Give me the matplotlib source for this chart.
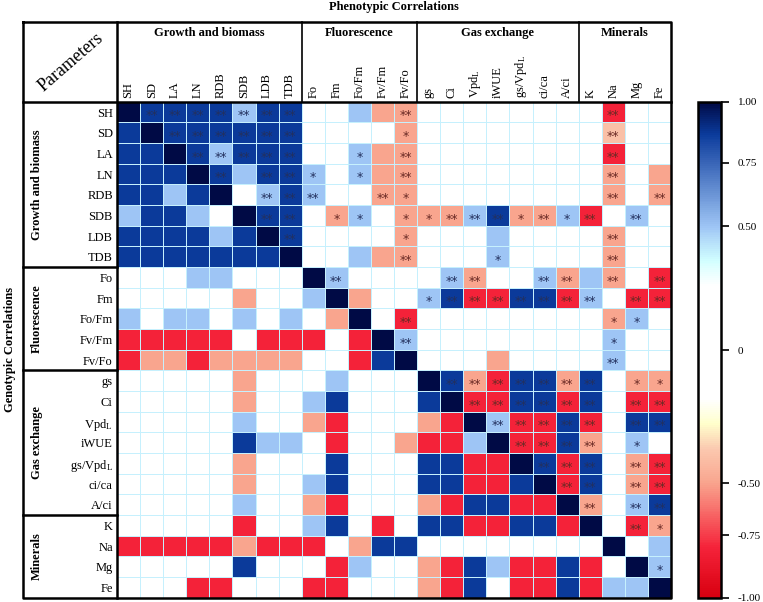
import numpy as np
import matplotlib
matplotlib.use("Agg")
import matplotlib.pyplot as plt
from matplotlib.colors import LinearSegmentedColormap, FuncNorm

plt.rcParams['font.family'] = ['Liberation Serif', 'DejaVu Serif']

params = ["SH", "SD", "LA", "LN", "RDB", "SDB", "LDB", "TDB",
          "Fo", "Fm", "Fo/Fm", "Fv/Fm", "Fv/Fo",
          "gs", "Ci", r"$\mathregular{Vpd_L}$", "iWUE", r"$\mathregular{gs/Vpd_L}$", "ci/ca", "A/ci",
          "K", "Na", "Mg", "Fe"]
groups = ["Growth and biomass", "Fluorescence", "Gas exchange", "Minerals"]
group_sizes = [8, 5, 7, 4]

# correlation levels
N, B, L, W, S, R, P = 1.0, 0.87, 0.5, 0.0, -0.5, -0.8, -0.4

# lower triangle = genotypic, upper triangle = phenotypic
corr = np.array([
    [N, B, B, B, B, L, B, B, W, W, L, S, S, W, W, W, W, W, W, W, W, R, W, W],
    [B, N, B, B, B, B, B, B, W, W, W, W, S, W, W, W, W, W, W, W, W, P, W, W],
    [B, B, N, B, L, B, B, B, W, W, L, S, S, W, W, W, W, W, W, W, W, R, W, W],
    [B, B, B, N, B, L, B, B, L, W, L, S, S, W, W, W, W, W, W, W, W, S, W, S],
    [B, B, L, B, N, W, L, B, L, W, W, S, S, W, W, W, W, W, W, W, W, S, W, S],
    [L, B, B, L, W, N, B, B, W, S, L, W, S, S, S, L, B, S, S, L, R, W, L, W],
    [B, B, B, B, L, B, N, B, W, W, W, W, S, W, W, W, L, W, W, W, W, S, W, W],
    [B, B, B, B, B, B, B, N, W, W, L, S, S, W, W, W, L, W, W, W, W, S, W, W],
    [W, W, W, L, L, W, W, W, N, L, W, W, W, W, L, S, W, W, L, S, L, S, W, R],
    [W, W, W, W, W, S, W, W, L, N, S, W, W, L, B, R, R, B, B, R, L, W, R, R],
    [L, W, L, L, W, L, W, L, W, S, N, W, R, W, W, W, W, W, W, W, W, S, L, W],
    [R, R, R, R, R, W, R, R, R, W, R, N, L, W, W, W, W, W, W, W, W, L, W, W],
    [R, S, S, R, S, S, S, S, W, W, R, B, N, W, W, W, S, W, W, W, W, L, W, W],
    [W, W, W, W, W, S, W, W, W, L, W, W, W, N, B, S, R, B, B, S, B, W, S, S],
    [W, W, W, W, W, S, W, W, L, B, W, W, W, B, N, R, R, B, B, R, B, W, R, R],
    [W, W, W, W, W, L, W, W, S, R, W, W, W, S, R, N, L, R, R, B, R, W, B, B],
    [W, W, W, W, W, B, L, L, W, R, W, W, S, R, R, L, N, R, R, B, S, W, L, W],
    [W, W, W, W, W, S, W, W, W, B, W, W, W, B, B, R, R, N, B, R, B, W, S, R],
    [W, W, W, W, W, S, W, W, L, B, W, W, W, B, B, R, R, B, N, R, B, W, S, R],
    [W, W, W, W, W, L, W, W, S, R, W, W, W, S, R, B, B, R, R, N, S, W, L, B],
    [W, W, W, W, W, R, W, W, L, B, W, R, W, B, B, R, R, B, B, R, N, W, R, S],
    [R, R, R, R, R, S, R, R, R, W, S, B, B, W, W, W, W, W, W, W, W, N, W, L],
    [W, W, W, W, W, B, W, W, W, R, L, W, W, S, R, B, L, R, R, B, R, W, N, L],
    [W, W, W, R, R, W, W, W, R, R, W, W, W, S, R, B, W, R, R, B, R, L, L, N],
])

# significance marks (row -> columns)
two_star = {0: [1, 2, 3, 4, 5, 6, 7, 12, 21], 1: [2, 3, 4, 5, 6, 7, 21],
            2: [3, 4, 5, 6, 7, 12, 21], 3: [4, 6, 7, 12, 21], 4: [6, 7, 8, 11, 21, 23],
            5: [6, 7, 14, 15, 16, 18, 20, 22], 6: [7, 21], 7: [12, 21],
            8: [9, 14, 15, 18, 19, 21, 23], 9: [14, 15, 16, 17, 18, 19, 20, 22, 23],
            10: [12], 11: [12], 12: [21], 13: [14, 15, 16, 17, 18, 19, 20],
            14: [15, 16, 17, 18, 19, 20, 22, 23], 15: [16, 17, 18, 19, 20, 22, 23],
            16: [17, 18, 19, 20], 17: [18, 19, 20, 22, 23], 18: [19, 20, 22, 23],
            19: [20, 22, 23], 20: [22]}
one_star = {1: [12], 2: [10], 3: [8, 10], 4: [12], 5: [9, 10, 12, 13, 17, 19],
            6: [12], 7: [16], 9: [13], 10: [21, 22], 11: [21], 13: [22, 23],
            16: [22], 20: [23], 22: [23]}

cbar_ticks = [-1, -0.75, -0.5, 0, 0.5, 0.75, 1]
cbar_labels = ["-1.00", "-0.75", "-0.50", "0", "0.50", "0.75", "1.00"]
cbar_pos = [0, 0.126, 0.231, 0.499, 0.749, 0.877, 1]

cmap = LinearSegmentedColormap.from_list("rwb", [
    (0.0, "#d80010"), (0.10, "#f5233a"), (0.231, "#f9a58e"), (0.30, "#fbc9b0"),
    (0.35, "#ffffcc"), (0.40, "#ffffff"), (0.63, "#ffffff"), (0.68, "#d2ffff"),
    (0.749, "#9ec5f5"), (0.877, "#3a66b8"), (0.936, "#0b3b9c"), (1.0, "#000a45")])
norm = FuncNorm((lambda v: np.interp(v, cbar_ticks, cbar_pos),
                 lambda p: np.interp(p, cbar_pos, cbar_ticks)), vmin=-1, vmax=1)

WPX, HPX = 763, 602
mx0, mx1, my0, my1 = 117, 671, 101.7, 597.7
tx0, ty0 = 23, 22
n = len(params)
cw = (mx1 - mx0) / n
rh = (my1 - my0) / n

fig = plt.figure(figsize=(WPX / 100, HPX / 100), dpi=100)
ax = fig.add_axes([mx0 / WPX, 1 - my1 / HPX, (mx1 - mx0) / WPX, (my1 - my0) / HPX])
mesh = ax.pcolormesh(np.arange(n + 1), np.arange(n + 1), corr, cmap=cmap, norm=norm,
                     edgecolors="#c6f0fd", linewidth=0.65)
ax.set_xlim(0, n)
ax.set_ylim(n, 0)
for sp in ax.spines.values():
    sp.set_visible(False)
ax.xaxis.tick_top()
ax.set_xticks(np.arange(n) + 0.5)
ax.set_xticklabels(params, rotation=90, fontsize=9)
ax.set_yticks(np.arange(n) + 0.5)
ax.set_yticklabels(params, fontsize=9)
ax.tick_params(length=0, pad=3)

for marks, txt in [(two_star, "**"), (one_star, "*")]:
    for r, cols in marks.items():
        for c in cols:
            col = "#23305e" if corr[r, c] > 0 else "#6a2a25"
            ax.text(c + 0.5, r + 0.5 + 0.36, txt, ha="center", va="baseline",
                    fontsize=9, color=col, family="DejaVu Sans")

# colorbar
cax = fig.add_axes([698 / WPX, 1 - my1 / HPX, 23 / WPX, (my1 - my0) / HPX])
cb = fig.colorbar(mesh, cax=cax)
cb.set_ticks(cbar_ticks)
cb.set_ticklabels(cbar_labels)
cb.outline.set_linewidth(1.8)
cax.tick_params(length=6, width=1.2, labelsize=8, pad=6)

# frame, headers and side labels in pixel coordinates
ov = fig.add_axes([0, 0, 1, 1], facecolor="none")
ov.set_xlim(0, WPX)
ov.set_ylim(HPX, 0)
ov.axis("off")
lw = 1.8
ov.plot([tx0, mx1, mx1, tx0, tx0], [ty0, ty0, my1, my1, ty0], color="k", lw=lw)
ov.plot([tx0, mx1], [my0, my0], color="k", lw=lw)
ov.plot([mx0, mx0], [ty0, my1], color="k", lw=lw)

start = 0
for g, size in zip(groups, group_sizes):
    xa, xb = mx0 + start * cw, mx0 + (start + size) * cw
    ya, yb = my0 + start * rh, my0 + (start + size) * rh
    if start > 0:
        ov.plot([xa, xa], [ty0, my0], color="k", lw=1.2)
        ov.plot([tx0, mx0], [ya, ya], color="k", lw=lw)
    ov.text((xa + xb) / 2, 33, g, ha="center", va="center", fontsize=9, fontweight="bold")
    ov.text(37, (ya + yb) / 2, g, ha="center", va="center", rotation=90,
            fontsize=9, fontweight="bold")
    start += size

ov.text((mx0 + mx1) / 2, 7, "Phenotypic Correlations", ha="center", va="center",
        fontsize=9, fontweight="bold")
ov.text(10, (my0 + my1) / 2, "Genotypic Correlations", ha="center", va="center",
        rotation=90, fontsize=9, fontweight="bold")
ov.text(71, 62, "Parameters", ha="center", va="center", rotation=41,
        rotation_mode="anchor", fontsize=13)

fig.savefig("out.png", dpi=100)
